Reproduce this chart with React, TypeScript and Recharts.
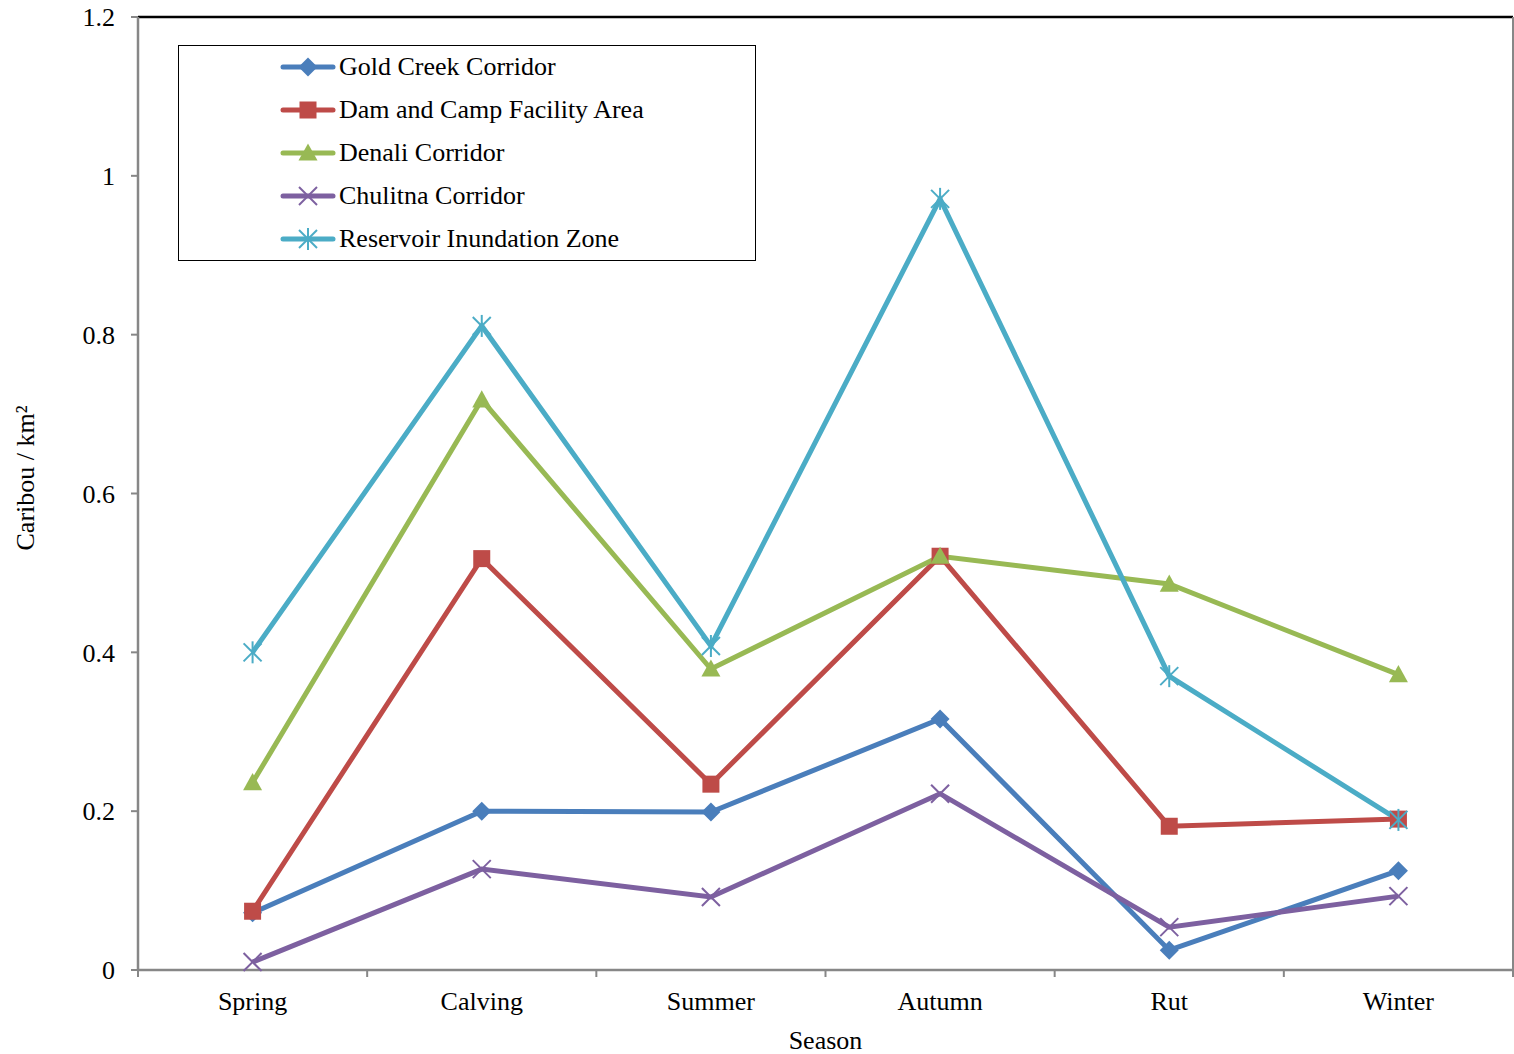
import React from 'react';
import {
  LineChart,
  Line,
  XAxis,
  YAxis,
  CartesianGrid,
  ReferenceLine,
} from 'recharts';

// Seasons and densities (caribou per km²)
const seasons = ['Spring', 'Calving', 'Summer', 'Autumn', 'Rut', 'Winter'];
const goldCreek = [0.072, 0.2, 0.199, 0.316, 0.025, 0.125];
const damCamp = [0.074, 0.518, 0.234, 0.521, 0.181, 0.19];
const denali = [0.236, 0.718, 0.379, 0.521, 0.486, 0.372];
const chulitna = [0.01, 0.127, 0.092, 0.222, 0.054, 0.093];
const reservoir = [0.4, 0.811, 0.408, 0.971, 0.37, 0.189];
const yTicks = [0, 0.2, 0.4, 0.6, 0.8, 1, 1.2];

const data = seasons.map((season, i) => ({
  season,
  goldCreek: goldCreek[i],
  damCamp: damCamp[i],
  denali: denali[i],
  chulitna: chulitna[i],
  reservoir: reservoir[i],
}));

const FONT = '"Liberation Serif", "Times New Roman", serif';
const FS = 26;
const GRID = '#878787';
const PLOT_W = 1375;
const BAND = PLOT_W / seasons.length;

type MarkerKind = 'diamond' | 'square' | 'triangle' | 'x' | 'star';

const SERIES: { key: string; name: string; color: string; marker: MarkerKind }[] = [
  { key: 'goldCreek', name: 'Gold Creek Corridor', color: '#4A7EBB', marker: 'diamond' },
  { key: 'damCamp', name: 'Dam and Camp Facility Area', color: '#BE4B48', marker: 'square' },
  { key: 'denali', name: 'Denali Corridor', color: '#98B954', marker: 'triangle' },
  { key: 'chulitna', name: 'Chulitna Corridor', color: '#7D60A0', marker: 'x' },
  { key: 'reservoir', name: 'Reservoir Inundation Zone', color: '#4BACC6', marker: 'star' },
];

const Marker = ({ kind, cx, cy, color }: { kind: MarkerKind; cx: number; cy: number; color: string }) => {
  if (kind === 'diamond') {
    const r = 9.5;
    return <path d={`M${cx},${cy - r}L${cx + r},${cy}L${cx},${cy + r}L${cx - r},${cy}Z`} fill={color} />;
  }
  if (kind === 'square') {
    const r = 8.5;
    return <rect x={cx - r} y={cy - r} width={r * 2} height={r * 2} fill={color} />;
  }
  if (kind === 'triangle') {
    const r = 9.5;
    return <path d={`M${cx},${cy - r}L${cx + r},${cy + r * 0.8}L${cx - r},${cy + r * 0.8}Z`} fill={color} />;
  }
  const r = 9;
  return (
    <g stroke={color} strokeWidth={2}>
      <line x1={cx - r} y1={cy - r} x2={cx + r} y2={cy + r} />
      <line x1={cx - r} y1={cy + r} x2={cx + r} y2={cy - r} />
      {kind === 'star' && <line x1={cx} y1={cy - r - 2} x2={cx} y2={cy + r + 2} />}
    </g>
  );
};

// category labels sit mid-band, tick marks sit on band boundaries
const SeasonTick = (props: any) => {
  const { x, y, payload, index } = props;
  const left = x - BAND / 2;
  return (
    <g>
      <line x1={left} x2={left} y1={y} y2={y + 7} stroke={GRID} strokeWidth={2} />
      {index === seasons.length - 1 && (
        <line x1={x + BAND / 2} x2={x + BAND / 2} y1={y} y2={y + 7} stroke={GRID} strokeWidth={2} />
      )}
      <text x={x} y={y + 40} textAnchor="middle" fontFamily={FONT} fontSize={FS} fill="#000">
        {payload.value}
      </text>
    </g>
  );
};

const ChartLegend = () => (
  <div
    style={{
      position: 'absolute',
      left: 178,
      top: 45,
      width: 576,
      height: 214,
      border: '1px solid #000',
      background: '#fff',
      fontFamily: FONT,
      fontSize: FS,
    }}
  >
    {SERIES.map((s, i) => (
      <div key={s.key} style={{ position: 'absolute', left: 101, top: 6 + i * 43, height: 30, display: 'flex', alignItems: 'center' }}>
        <svg width={56} height={30}>
          <line x1={3} x2={53} y1={15} y2={15} stroke={s.color} strokeWidth={5} strokeLinecap="round" />
          <Marker kind={s.marker} cx={28} cy={15} color={s.color} />
        </svg>
        <span style={{ marginLeft: 3, whiteSpace: 'nowrap' }}>{s.name}</span>
      </div>
    ))}
  </div>
);

export default function App() {
  return (
    <div style={{ position: 'absolute', left: 0, top: 0, width: 1514, height: 1054, background: '#fff' }}>
      <LineChart width={1514} height={1054} data={data} margin={{ top: 17, right: 0, bottom: 0, left: 0 }}>
        <CartesianGrid vertical={false} stroke={GRID} strokeWidth={2} />
        <XAxis
          dataKey="season"
          height={84}
          padding={{ left: BAND / 2, right: BAND / 2 }}
          axisLine={{ stroke: GRID, strokeWidth: 2.5 }}
          tickLine={false}
          tickSize={0}
          tickMargin={0}
          tick={<SeasonTick />}
          interval={0}
          label={{ value: 'Season', position: 'insideBottom', offset: 5, fontFamily: FONT, fontSize: FS, fill: '#000' }}
        />
        <YAxis
          yAxisId="left"
          width={138}
          domain={[0, 1.2]}
          ticks={yTicks}
          tickSize={7}
          tickMargin={16}
          tickFormatter={(v: number) => String(v)}
          axisLine={{ stroke: GRID, strokeWidth: 2.5 }}
          tickLine={{ stroke: GRID, strokeWidth: 2 }}
          tick={{ fontFamily: FONT, fontSize: FS, fill: '#000' }}
          label={{
            content: () => (
              <text
                x={25}
                y={478}
                transform="rotate(-90 25 478)"
                textAnchor="middle"
                dominantBaseline="central"
                fontFamily={FONT}
                fontSize={FS}
                fill="#000"
              >
                Caribou / km²
              </text>
            ),
          }}
        />
        <YAxis
          yAxisId="right"
          orientation="right"
          width={1}
          domain={[0, 1.2]}
          tick={false}
          tickLine={false}
          axisLine={{ stroke: GRID, strokeWidth: 2 }}
        />
        <ReferenceLine yAxisId="left" y={1.2} stroke="#000" strokeWidth={2.5} />
        {SERIES.map((s) => (
          <Line
            key={s.key}
            yAxisId="left"
            type="linear"
            dataKey={s.key}
            name={s.name}
            stroke={s.color}
            strokeWidth={5}
            isAnimationActive={false}
            activeDot={false}
            dot={(p: any) => <Marker key={`${s.key}-${p.index}`} kind={s.marker} cx={p.cx} cy={p.cy} color={s.color} />}
          />
        ))}
      </LineChart>
      <ChartLegend />
    </div>
  );
}
